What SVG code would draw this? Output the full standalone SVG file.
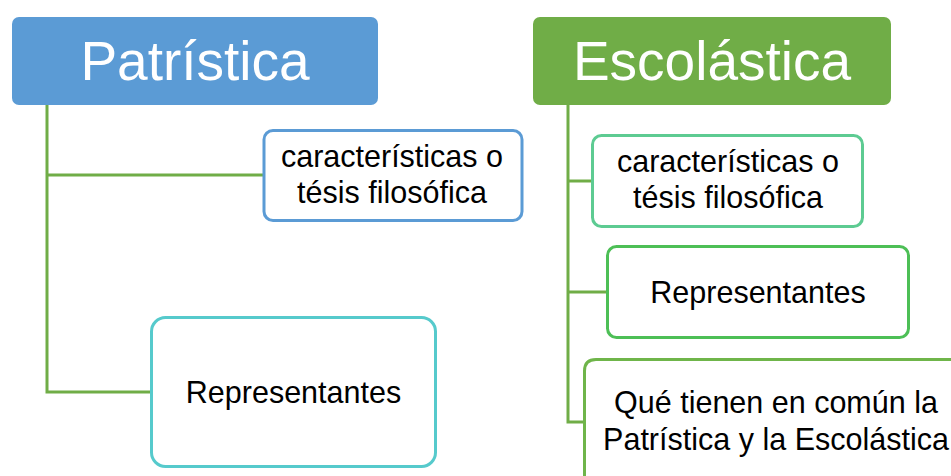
<svg xmlns="http://www.w3.org/2000/svg" width="951" height="476" viewBox="0 0 951 476">
<style>
text{font-family:"Liberation Sans",Arial,sans-serif;text-anchor:middle}
.title{font-size:55px;fill:#ffffff}
.lbl{font-size:30.5px;fill:#000000}
.conn{stroke:#70AD47;stroke-width:3;fill:none}
.box{fill:#ffffff;stroke-width:3}
</style>
<rect width="951" height="476" fill="#ffffff"/>
<g id="connectors">
<polyline class="conn" points="47,105 47,392 151,392"/>
<line class="conn" x1="47" y1="175" x2="263" y2="175"/>
<polyline class="conn" points="568,105 568,422 584,422"/>
<line class="conn" x1="568" y1="181" x2="592" y2="181"/>
<line class="conn" x1="568" y1="292" x2="607" y2="292"/>
</g>
<g id="patristica">
<rect x="12" y="17" width="366" height="88" rx="7" fill="#5B9BD5"/>
<text class="title" x="195" y="80">Patrística</text>
</g>
<g id="pat-caracteristicas">
<rect class="box" x="264" y="130.5" width="258" height="90" rx="9" stroke="#5B9BD5"/>
<text class="lbl" x="392" y="167">características o</text>
<text class="lbl" x="392" y="203">tésis filosófica</text>
</g>
<g id="pat-representantes">
<rect class="box" x="151.5" y="317.5" width="284" height="149" rx="14" stroke="#56CACC"/>
<text class="lbl" x="293.5" y="403">Representantes</text>
</g>
<g id="escolastica">
<rect x="533" y="17" width="358" height="88" rx="7" fill="#70AD47"/>
<text class="title" x="712" y="80">Escolástica</text>
</g>
<g id="esc-caracteristicas">
<rect class="box" x="592.5" y="135.5" width="270" height="91" rx="9" stroke="#5DCB92"/>
<text class="lbl" x="728" y="172">características o</text>
<text class="lbl" x="728" y="208">tésis filosófica</text>
</g>
<g id="esc-representantes">
<rect class="box" x="607.5" y="246.5" width="301" height="91" rx="9" stroke="#4DBF56"/>
<text class="lbl" x="758" y="303">Representantes</text>
</g>
<g id="esc-comun">
<path class="box" d="M584.5,478 L584.5,371 Q584.5,359.5 596,359.5 L953,359.5" stroke="#6FB54A"/>
<text class="lbl" x="776" y="413">Qué tienen en común la</text>
<text class="lbl" x="776" y="450">Patrística y la Escolástica</text>
</g>
</svg>
